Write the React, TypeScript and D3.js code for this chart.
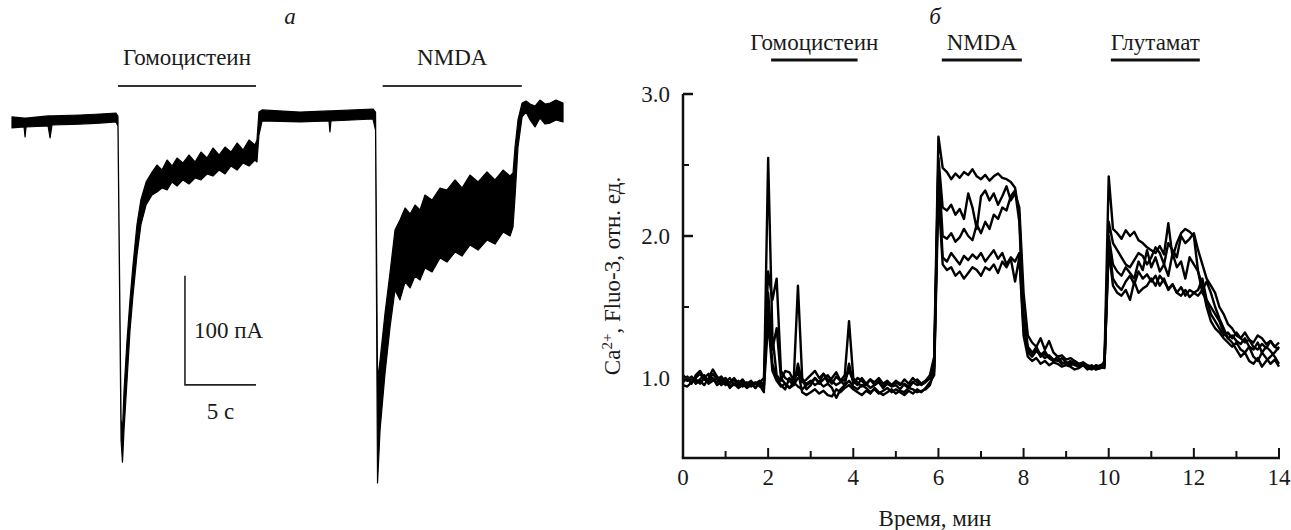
import React from 'react';
import * as d3 from 'd3';

const W = 1291, H = 530;
const FONT = '"Liberation Serif", "Times New Roman", serif';

// ---------- Panel a: whole-cell current (envelope of noisy trace) ----------
// time, s
const aTime = [0.00, 0.85, 0.92, 0.99, 2.54, 2.68, 2.82, 4.79, 6.20, 7.32, 7.46, 7.68, 7.78, 7.89, 8.10, 8.31, 8.52, 8.80, 9.08, 9.44,
  9.86, 10.21, 10.56, 10.92, 11.27, 11.62, 12.04, 12.46, 12.89, 13.31, 13.73, 14.15, 14.58, 15.00, 15.42, 15.85, 16.27, 16.69, 17.11, 17.25,
  17.39, 17.61, 20.28, 22.32, 22.39, 22.46, 25.42, 25.60, 25.74, 25.92, 26.27, 26.62,
  26.97, 27.32, 27.68, 28.03, 28.38, 28.73, 29.08, 29.58, 30.14, 30.63, 31.20, 31.69, 32.25, 32.82, 33.45, 34.01, 34.58, 35.07, 35.28,
  35.42, 35.63, 35.92, 36.20, 36.48, 36.83, 37.18, 37.54, 37.89, 38.31, 38.80];
// upper edge of the trace, pA
const aHi = [2.8, 1.8, 1.8, 1.8, 3.7, 3.7, 3.7, 4.6, 5.5, 6.4, 3.7, -275, -284, -248, -202, -165, -133, -96, -73, -57,
  -47.7, -41.3, -45.9, -36.7, -42.2, -34.9, -39.4, -32.1, -38.5, -29.4, -34.9, -25.7, -32.1, -24.8, -29.4, -21.1, -27.5, -18.3, -22.9, -18.3,
  7.3, 9.2, 7.3, 8.3, 8.3, 8.3, 10.1, 7.3, -239, -220, -177, -140,
  -100.9, -91.7, -80.7, -86.2, -78.0, -82.6, -68.8, -73.4, -62.4, -64.2, -55.0, -62.4, -50.5, -56.9, -47.7, -55.0, -45.9, -51.4, -48.6,
  -25, 0, 15.6, 17.4, 14.7, 12.8, 18.3, 14.7, 15.6, 18.3, 15.6];
// lower edge of the trace, pA
const aLo = [-7.3, -6.4, -15.6, -6.4, -5.5, -16.5, -4.6, -3.7, -2.8, -1.8, -5.5, -294, -314, -284, -239, -193, -161, -124, -96, -78,
  -68.8, -66.1, -62.4, -64.2, -56.9, -60.6, -55.0, -58.7, -53.2, -55.0, -49.5, -51.4, -45.9, -49.5, -42.2, -45.9, -39.4, -42.2, -36.7, -38.5,
  -13.8, -0.9, -1.8, -0.9, -11, -0.9, 0.9, -9.2, -333, -284, -232, -190,
  -156.0, -165.1, -148.6, -154.1, -143.1, -146.8, -135.8, -139.4, -126.6, -130.3, -121.1, -124.8, -114.7, -119.3, -110.1, -113.8, -102.8, -106.4, -98.2,
  -71, -25, 2.8, 7.3, 0, -6.4, 1.8, -3.7, -2.8, 0, -1.8];
const aBarLabels = ['Гомоцистеин', 'NMDA'];
const aBarStart = [7.46, 26.1];
const aBarEnd = [17.18, 35.9];

// ---------- Panel б: Ca2+ Fluo-3 traces ----------
const bTime = d3.range(0, 141).map(i => i / 10); // 0 … 14 min, 0.1 min sampling
const s1 = [1.00,0.98,1.01,0.97,0.99,1.02,0.96,0.98,1.00,0.95,0.97,0.94,0.96,0.93,0.95,0.97,0.94,0.96,0.95,0.90,
  2.55,1.30,1.02,0.98,1.05,1.04,0.98,1.65,1.00,0.92,
  0.95,1.00,0.97,1.03,0.99,0.96,1.01,0.98,1.02,1.40,
  1.00,0.97,0.94,0.96,0.99,0.95,0.97,0.93,0.96,0.94,
  0.95,0.92,0.96,0.94,0.97,0.95,0.96,0.98,1.02,1.15,
  2.70,2.48,2.45,2.40,2.44,2.41,2.45,2.43,2.47,2.42,
  2.40,2.43,2.39,2.42,2.44,2.41,2.40,2.38,2.34,2.15,
  1.45,1.22,1.18,1.20,1.15,1.17,1.14,1.12,1.13,1.10,
  1.11,1.09,1.10,1.08,1.09,1.07,1.06,1.08,1.07,1.12,
  2.42,2.05,2.02,1.98,2.04,2.00,2.03,1.97,1.95,1.92,
  1.90,1.88,1.93,1.87,2.09,1.85,1.95,2.02,2.05,2.03,
  2.00,1.75,1.60,1.55,1.50,1.45,1.40,1.32,1.28,1.30,
  1.26,1.24,1.28,1.22,1.20,1.25,1.18,1.22,1.19,1.15,
  1.10];
const s2 = [0.97,1.00,0.96,1.02,1.05,1.00,0.98,1.03,0.99,1.01,0.97,1.00,0.95,0.98,0.94,0.96,0.98,0.93,0.97,1.00,
  1.75,1.55,1.70,1.05,1.00,0.98,0.95,1.10,0.97,0.99,
  1.02,1.05,1.00,1.03,0.97,1.00,1.04,0.98,0.95,1.10,
  0.96,1.00,0.98,0.95,0.99,0.97,1.00,0.96,0.98,0.95,
  0.97,0.95,0.99,0.96,1.00,0.97,0.95,0.97,1.00,1.10,
  2.55,2.20,2.18,2.22,2.15,2.19,2.12,2.30,2.20,2.05,
  2.28,2.32,2.25,2.30,2.22,2.28,2.35,2.25,2.30,2.20,
  1.60,1.30,1.25,1.22,1.28,1.20,1.26,1.18,1.15,1.16,
  1.13,1.14,1.12,1.10,1.11,1.09,1.08,1.07,1.09,1.10,
  2.10,1.95,1.90,1.85,1.80,1.78,1.83,1.88,1.86,1.80,
  1.85,1.92,1.88,1.80,1.95,1.90,1.85,2.00,1.95,1.98,
  2.02,1.90,1.80,1.70,1.65,1.60,1.50,1.45,1.38,1.35,
  1.30,1.28,1.32,1.27,1.25,1.30,1.28,1.24,1.26,1.22,
  1.25];
const s3 = [0.95,0.94,0.97,0.99,0.96,1.00,1.03,0.99,0.97,1.00,0.95,0.97,1.00,0.96,0.99,0.95,0.97,0.96,0.98,0.95,
  1.60,1.20,1.35,1.00,0.96,0.93,0.97,1.05,0.90,0.88,
  0.90,0.92,0.89,0.91,0.88,0.87,0.92,0.90,0.93,0.95,
  0.92,0.90,0.88,0.91,0.89,0.93,0.90,0.88,0.90,0.92,
  0.89,0.91,0.90,0.93,0.92,0.90,0.91,0.92,0.95,1.05,
  2.50,2.00,1.98,2.02,1.96,1.99,2.05,2.00,1.97,2.08,
  2.02,2.10,2.05,2.15,2.12,2.20,2.18,2.28,2.32,2.10,
  1.40,1.20,1.17,1.22,1.16,1.19,1.14,1.12,1.15,1.11,
  1.10,1.12,1.09,1.08,1.10,1.07,1.09,1.06,1.07,1.08,
  2.00,1.80,1.75,1.72,1.78,1.74,1.70,1.82,1.76,1.90,
  1.78,1.85,1.75,1.80,1.72,1.88,1.78,1.82,1.70,1.85,
  1.80,1.75,1.65,1.50,1.40,1.35,1.32,1.28,1.25,1.22,
  1.25,1.20,1.18,1.22,1.15,1.12,1.18,1.14,1.10,1.13,
  1.08];
const s4 = [1.02,0.99,1.00,0.96,0.98,0.95,1.00,1.06,1.01,0.98,1.00,0.96,0.99,0.94,0.96,0.93,0.95,0.97,0.94,0.96,
  1.50,1.10,1.00,0.95,0.92,1.00,0.97,0.94,0.92,0.95,
  0.97,1.00,0.96,0.99,1.02,0.98,0.95,0.97,0.99,1.05,
  0.98,0.95,1.00,0.96,0.93,0.95,0.98,0.94,0.97,0.95,
  0.98,0.96,0.95,0.93,0.97,0.99,0.96,0.98,1.00,1.08,
  2.40,1.85,1.82,1.88,1.84,1.80,1.86,1.83,1.87,1.84,
  1.88,1.82,1.86,1.90,1.84,1.88,1.80,1.85,1.82,1.88,
  1.35,1.18,1.15,1.19,1.17,1.14,1.16,1.13,1.12,1.14,
  1.11,1.10,1.12,1.09,1.11,1.08,1.07,1.09,1.08,1.07,
  1.95,1.70,1.65,1.62,1.68,1.72,1.66,1.75,1.70,1.73,
  1.68,1.72,1.65,1.70,1.62,1.66,1.60,1.64,1.58,1.62,
  1.60,1.62,1.70,1.55,1.45,1.40,1.35,1.30,1.32,1.28,
  1.32,1.28,1.25,1.27,1.22,1.20,1.24,1.21,1.26,1.22,
  1.20];
const s5 = [0.98,1.01,0.97,1.00,1.03,0.99,0.97,1.00,0.95,0.97,0.99,0.93,0.96,0.95,0.98,0.94,0.96,0.93,0.97,0.92,
  1.40,1.05,0.98,0.94,0.96,0.93,0.95,1.00,0.98,0.96,
  0.98,0.95,0.97,0.94,0.96,0.93,0.86,0.92,0.95,0.98,
  0.94,0.92,0.95,0.93,0.90,0.92,0.89,0.91,0.93,0.90,
  0.92,0.90,0.88,0.91,0.89,0.92,0.90,0.93,0.97,1.02,
  2.30,1.80,1.76,1.78,1.72,1.75,1.70,1.74,1.78,1.76,
  1.72,1.78,1.76,1.80,1.74,1.82,1.78,1.84,1.68,1.85,
  1.30,1.15,1.12,1.14,1.10,1.12,1.09,1.11,1.10,1.08,
  1.09,1.08,1.06,1.07,1.09,1.06,1.08,1.06,1.07,1.09,
  1.90,1.65,1.60,1.58,1.62,1.55,1.68,1.60,1.63,1.65,
  1.70,1.65,1.72,1.68,1.63,1.66,1.60,1.58,1.62,1.57,
  1.60,1.58,1.62,1.68,1.60,1.50,1.42,1.35,1.28,1.25,
  1.20,1.15,1.18,1.12,1.10,1.14,1.08,1.12,1.15,1.18,
  1.22];
const bSeries = [s1, s2, s3, s4, s5];
const bBarLabels = ['Гомоцистеин', 'NMDA', 'Глутамат'];
const bBarStart = [2.07, 6.08, 10.05];
const bBarEnd = [4.1, 7.96, 12.14];
const bXTicks = [0, 2, 4, 6, 8, 10, 12, 14];
const bXMinor = [1, 3, 5, 7, 9, 11, 13];
const bYTicks = [1.0, 2.0, 3.0];
const bYMinor = [1.5, 2.5];

export default function App() {
  // panel a scales
  const ax = d3.scaleLinear().domain([0, 38.8]).range([12, 563]);
  const ay = d3.scaleLinear().domain([-330, 20]).range([120 + 330 * 1.09, 120 - 20 * 1.09]);
  const aIdx = d3.range(aTime.length);
  const area = d3.area<number>().x(i => ax(aTime[i])).y0(i => ay(aLo[i])).y1(i => ay(aHi[i]));

  // panel b scales
  const bx = d3.scaleLinear().domain([0, 14]).range([683, 1279]);
  const by = d3.scaleLinear().domain([1 - 80 / 142, 3]).range([458, 94]);
  const line = d3.line<number>().x((_, i) => bx(bTime[i])).y(v => by(v));
  const yBottom = by.range()[0];
  const xLeft = bx.range()[0];

  const sbT = 12.18, sbP = -243;
  const FS = 23;

  const T = (props: any) => <text fontFamily={FONT} fill="#1a1a1a" fontSize={FS} {...props} />;

  return (
    <svg width={W} height={H} style={{ position: 'absolute', left: 0, top: 0, background: '#fff' }}>
      {/* ---------- Panel a ---------- */}
      <T x={290} y={24} fontStyle="italic" textAnchor="middle">а</T>
      {aBarLabels.map((lab, i) => {
        const x0 = ax(aBarStart[i]), x1 = ax(aBarEnd[i]);
        return (
          <g key={lab}>
            <T x={(x0 + x1) / 2} y={65} textAnchor="middle">{lab}</T>
            <line x1={x0} x2={x1} y1={86} y2={86} stroke="#333" strokeWidth={2} />
          </g>
        );
      })}
      <path d={area(aIdx) || ''} fill="#000" stroke="#000" strokeWidth={1.2} strokeLinejoin="round" />
      {/* scale bar */}
      <path d={`M${ax(sbT)},${ay(sbP + 100)}V${ay(sbP)}H${ax(sbT + 5)}`} fill="none" stroke="#222" strokeWidth={1.6} />
      <T x={ax(sbT) + 9} y={(ay(sbP + 100) + ay(sbP)) / 2 + 8}>100 пА</T>
      <T x={(ax(sbT) + ax(sbT + 5)) / 2} y={ay(sbP) + 34} textAnchor="middle">5 с</T>

      {/* ---------- Panel б ---------- */}
      <T x={935} y={24} fontStyle="italic" textAnchor="middle">б</T>
      {bBarLabels.map((lab, i) => {
        const x0 = bx(bBarStart[i]), x1 = bx(bBarEnd[i]);
        return (
          <g key={lab}>
            <T x={(x0 + x1) / 2} y={50} textAnchor="middle">{lab}</T>
            <line x1={x0} x2={x1} y1={60} y2={60} stroke="#111" strokeWidth={3} />
          </g>
        );
      })}
      {bSeries.map((s, k) => (
        <path key={k} d={line(s) || ''} fill="none" stroke="#000" strokeWidth={2.4} strokeLinejoin="round" />
      ))}
      {/* axes */}
      <line x1={xLeft} x2={xLeft} y1={by(3)} y2={yBottom} stroke="#111" strokeWidth={2.5} />
      <line x1={xLeft - 1.2} x2={bx(14) + 1} y1={yBottom} y2={yBottom} stroke="#111" strokeWidth={2.5} />
      {bYTicks.map(v => (
        <g key={v}>
          <line x1={xLeft} x2={xLeft + 10} y1={by(v)} y2={by(v)} stroke="#111" strokeWidth={2.5} />
          <T x={xLeft - 13} y={by(v) + 8} textAnchor="end">{v.toFixed(1)}</T>
        </g>
      ))}
      {bYMinor.map(v => (
        <line key={v} x1={xLeft} x2={xLeft + 6} y1={by(v)} y2={by(v)} stroke="#111" strokeWidth={2} />
      ))}
      {bXTicks.map(v => (
        <g key={v}>
          <line x1={bx(v)} x2={bx(v)} y1={yBottom} y2={yBottom - 10} stroke="#111" strokeWidth={2} />
          <T x={bx(v)} y={yBottom + 27} textAnchor="middle">{v}</T>
        </g>
      ))}
      {bXMinor.map(v => (
        <line key={v} x1={bx(v)} x2={bx(v)} y1={yBottom} y2={yBottom - 7} stroke="#111" strokeWidth={2} />
      ))}
      <T x={935} y={526} textAnchor="middle">Время, мин</T>
      <T transform={`translate(${620},${276}) rotate(-90)`} textAnchor="middle">
        Ca<tspan dy={-8} fontSize={15}>2+</tspan><tspan dy={8}>, Fluo-3, отн. ед.</tspan>
      </T>
    </svg>
  );
}
